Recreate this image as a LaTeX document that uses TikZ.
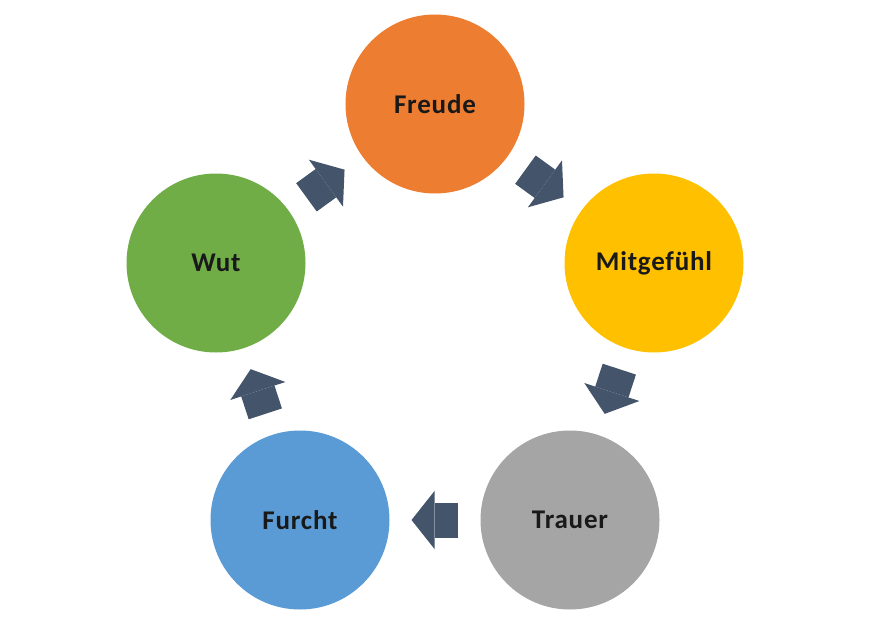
\documentclass[tikz,border=0pt]{standalone}
\usepackage{fontspec}
\setmainfont{Carlito}
\newfontfamily\emotionfont[LetterSpace=3]{Carlito}
\usetikzlibrary{
    arrows.meta,
    calc,
    positioning
}
\definecolor{freudeorange}{HTML}{ED7D31}
\definecolor{mitgefuehlgold}{HTML}{FFC000}
\definecolor{trauergray}{HTML}{A5A5A5}
\definecolor{furchtblue}{HTML}{5B9BD5}
\definecolor{wutgreen}{HTML}{70AD47}
\definecolor{arrowslate}{HTML}{44546A}

\begin{document}
\begin{tikzpicture}[x=1pt, y=-1pt,
    emotion/.style={circle, minimum size=179pt, inner sep=0pt, text=black!90,
        font=\emotionfont\bfseries\fontsize{27}{31}\selectfont},
    cyclearrow/.style={draw=arrowslate, line width=35pt,
        -{Triangle[length=23pt, width=58pt, line width=0pt]}}]
    \useasboundingbox (0, 0) rectangle (872, 623);
    % the five feelings
    \node[emotion, fill=freudeorange] (freude) at (435, 104) {Freude};
    \node[emotion, fill=mitgefuehlgold] (mitgefuehl) at (654, 263) {Mitgefühl};
    \node[emotion, fill=trauergray] (trauer) at (570, 520) {Trauer};
    \node[emotion, fill=furchtblue] (furcht) at (300, 520) {Furcht};
    \node[emotion, fill=wutgreen] (wut) at (216, 263) {Wut};
    % block arrows round the cycle
    \draw[cyclearrow] ($(freude)!0.413!(mitgefuehl)$) -- ($(freude)!0.587!(mitgefuehl)$);
    \draw[cyclearrow] ($(mitgefuehl)!0.413!(trauer)$) -- ($(mitgefuehl)!0.587!(trauer)$);
    \draw[cyclearrow] ($(trauer)!0.413!(furcht)$) -- ($(trauer)!0.587!(furcht)$);
    \draw[cyclearrow] ($(furcht)!0.413!(wut)$) -- ($(furcht)!0.587!(wut)$);
    \draw[cyclearrow] ($(wut)!0.413!(freude)$) -- ($(wut)!0.587!(freude)$);
\end{tikzpicture}
\end{document}
